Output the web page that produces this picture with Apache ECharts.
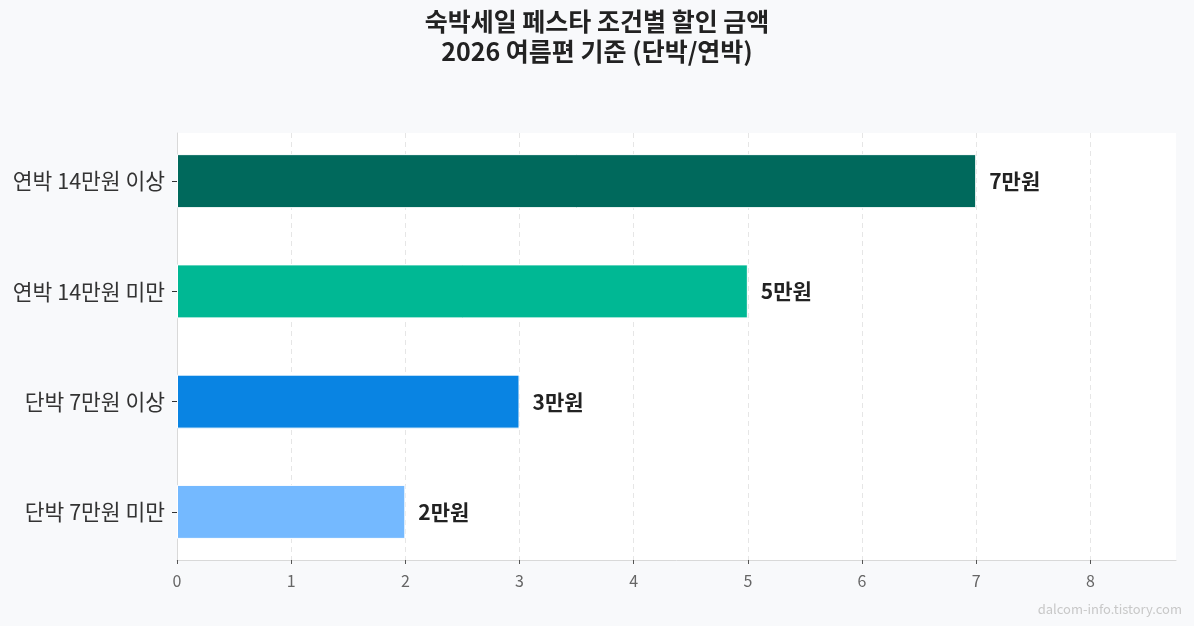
<!DOCTYPE html>
<html>
<head>
    <meta charset="utf-8">
    <title>숙박세일 페스타 조건별 할인 금액</title>
    <style>
        html, body {
            margin: 0;
            padding: 0;
            background: #f8f9fb;
        }

        #chart {
            width: 1194px;
            height: 626px;
        }
    </style>
    <script src="https://cdn.jsdelivr.net/npm/echarts@6.0.0/dist/echarts.min.js"></script>
</head>
<body>
    <div id="chart"></div>

    <script>
        var categories = ['연박 14만원 이상', '연박 14만원 미만', '단박 7만원 이상', '단박 7만원 미만'];
        var discounts = [7, 5, 3, 2];
        var barColors = ['#00695c', '#00b894', '#0984e3', '#74b9ff'];
        var xTicks = [0, 1, 2, 3, 4, 5, 6, 7, 8];

        var fontFamily = '"Noto Sans CJK KR", "Noto Sans", sans-serif';
        var xMax = 8.75;

        var myChart = echarts.init(document.getElementById('chart'));

        var option = {
            backgroundColor: '#f8f9fb',
            textStyle: { fontFamily: fontFamily },
            title: {
                text: '숙박세일 페스타 조건별 할인 금액\n2026 여름편 기준 (단박/연박)',
                left: 'center',
                top: 1,
                textStyle: {
                    fontFamily: fontFamily,
                    fontSize: 25,
                    fontWeight: 'bold',
                    color: '#222',
                    lineHeight: 30
                }
            },
            graphic: [{
                type: 'text',
                right: 12,
                bottom: 10,
                style: {
                    text: 'dalcom-info.tistory.com',
                    fill: '#c8c8c8',
                    font: '13px "Noto Sans CJK KR", sans-serif'
                }
            }],
            grid: [{
                // plot frame: white area and grid lines
                left: 177,
                right: 18,
                top: 133,
                bottom: 66,
                show: true,
                backgroundColor: '#ffffff',
                borderWidth: 0
            }, {
                // bars, with a little padding on the category axis
                left: 177,
                right: 18,
                top: 126,
                bottom: 59
            }],
            xAxis: [{
                gridIndex: 0,
                type: 'value',
                min: 0,
                max: xMax,
                interval: 1,
                axisLine: { show: true, lineStyle: { color: '#d9d9d9', width: 1 } },
                axisTick: { show: true, length: 4, customValues: xTicks, lineStyle: { color: '#555' } },
                axisLabel: { show: false },
                splitLine: { show: true, lineStyle: { color: '#e6e6e6', type: [5, 4], width: 1 } }
            }, {
                // tick labels drawn from the bar grid's axis
                gridIndex: 1,
                type: 'value',
                min: 0,
                max: xMax,
                interval: 1,
                axisLine: { show: false },
                axisTick: { show: false },
                axisLabel: {
                    show: true,
                    margin: 6,
                    fontSize: 16,
                    color: '#666',
                    customValues: xTicks
                },
                splitLine: { show: false }
            }],
            yAxis: [{
                gridIndex: 0,
                type: 'value',
                min: 0,
                max: 1,
                axisLine: { show: true, lineStyle: { color: '#d9d9d9', width: 1 } },
                axisTick: { show: false },
                axisLabel: { show: false },
                splitLine: { show: false }
            }, {
                gridIndex: 1,
                type: 'category',
                inverse: true,
                data: categories,
                axisLine: { show: false },
                axisTick: { show: true, alignWithLabel: true, length: 5, lineStyle: { color: '#333' } },
                axisLabel: { margin: 12, fontSize: 21.5, color: '#333' }
            }],
            series: [{
                type: 'bar',
                xAxisIndex: 1,
                yAxisIndex: 1,
                barWidth: 54,
                data: discounts.map(function (v, i) {
                    return { value: v, itemStyle: { color: barColors[i] } };
                }),
                itemStyle: { borderColor: '#ffffff', borderWidth: 1 },
                label: {
                    show: true,
                    position: 'right',
                    distance: 13,
                    fontSize: 21,
                    fontWeight: 'bold',
                    color: '#222',
                    formatter: function (p) { return p.value + '만원'; }
                }
            }]
        };

        myChart.setOption(option);
    </script>
</body>
</html>
